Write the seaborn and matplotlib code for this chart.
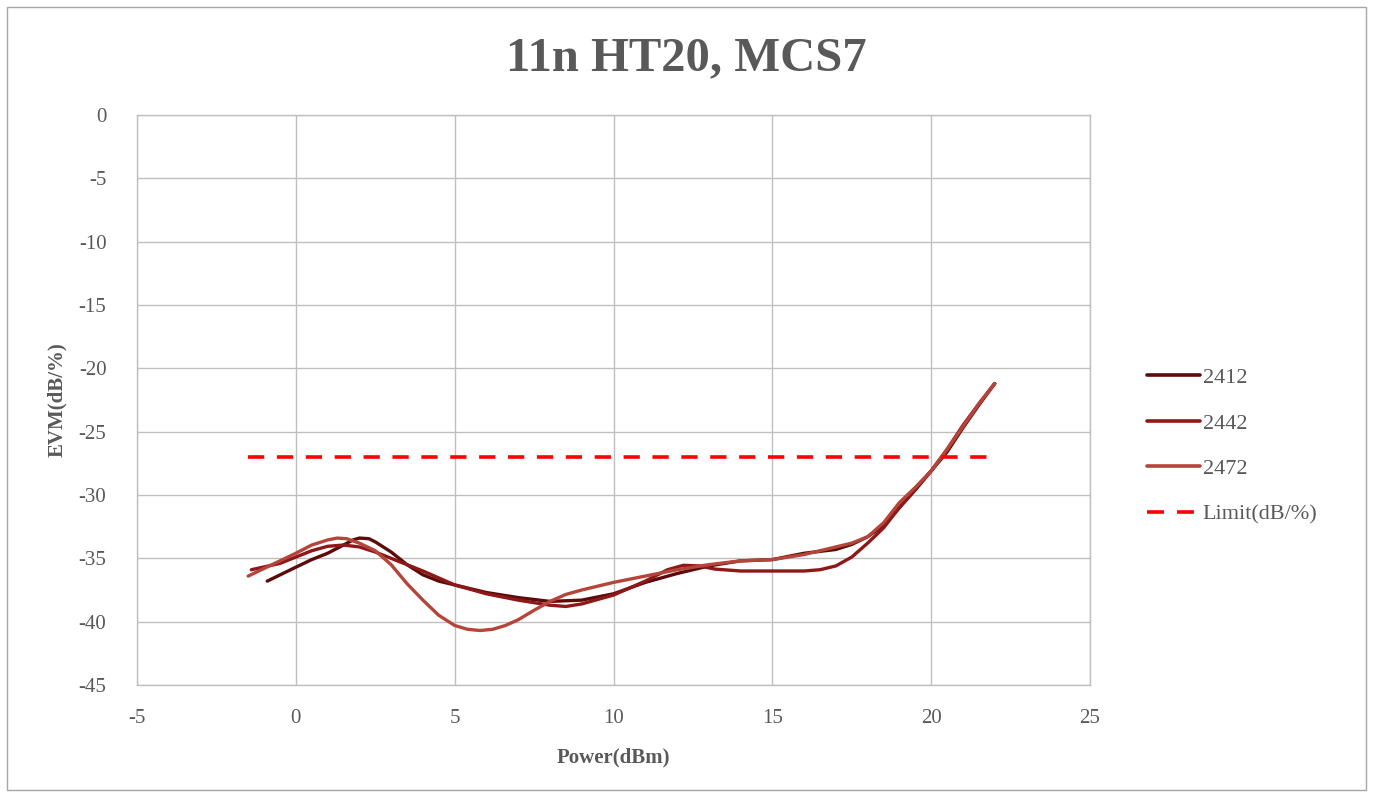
import matplotlib
matplotlib.use("Agg")
import matplotlib.pyplot as plt
from matplotlib.patches import Rectangle
from matplotlib.lines import Line2D
import seaborn as sns
import pandas as pd

# ---- data ----
x_2412 = [-0.9, 0.0, 0.5, 1.0, 1.5, 1.8, 2.0, 2.3, 2.5, 3.0, 3.5, 4.0, 4.5, 5.0, 6.0, 7.0, 8.0, 9.0,
          10.0, 11.0, 12.0, 13.0, 14.0, 15.0, 16.0, 17.0, 17.5, 18.0, 18.5, 19.0, 19.5,
          20.0, 20.5, 21.0, 21.5, 22.0]
y_2412 = [-36.8, -35.7, -35.1, -34.6, -33.95, -33.55, -33.4, -33.45, -33.7, -34.5, -35.5, -36.3, -36.8, -37.1,
          -37.7, -38.1, -38.4, -38.3, -37.8, -36.9, -36.2, -35.6, -35.2, -35.1, -34.6, -34.3,
          -33.9, -33.3, -32.4, -31.0, -29.6, -28.1, -26.6, -24.7, -22.9, -21.2]

x_2442 = [-1.4, -0.5, 0.0, 0.5, 1.0, 1.5, 2.0, 2.5, 3.0, 3.5, 4.0, 5.0, 6.0, 7.0, 8.0, 8.5,
          9.0, 10.0, 11.0, 11.7, 12.2, 12.7, 13.2, 14.0, 15.0, 16.0, 16.5, 17.0, 17.5, 18.0, 18.5,
          19.0, 19.5, 20.0, 20.5, 21.0, 21.5, 22.0]
y_2442 = [-35.9, -35.4, -34.9, -34.4, -34.05, -33.95, -34.1, -34.5, -35.0, -35.5, -36.0, -37.1,
          -37.8, -38.3, -38.7, -38.8, -38.6, -37.9, -36.8, -35.9, -35.55, -35.6, -35.85, -36.0, -36.0,
          -36.0, -35.9, -35.6, -34.9, -33.8, -32.6, -31.0, -29.5, -28.1, -26.4, -24.5, -22.8,
          -21.2]

x_2472 = [-1.5, -1.0, -0.5, 0.0, 0.5, 1.0, 1.3, 1.6, 2.0, 2.5, 3.0, 3.5, 4.0, 4.5, 5.0, 5.4, 5.8,
          6.2, 6.6, 7.0, 7.5, 8.0, 8.5, 9.0, 10.0, 11.0, 12.0, 13.0, 14.0, 15.0, 16.0, 17.0, 17.5,
          18.0, 18.5, 19.0, 19.5, 20.0, 20.5, 21.0, 21.5, 22.0]
y_2472 = [-36.4, -35.8, -35.2, -34.6, -33.95, -33.55, -33.4, -33.45, -33.8, -34.4, -35.5, -37.0, -38.3,
          -39.5, -40.3, -40.6, -40.7, -40.6, -40.3, -39.85, -39.1, -38.4, -37.85, -37.5, -36.9, -36.4,
          -35.9, -35.5, -35.2, -35.1, -34.7, -34.1, -33.8, -33.3, -32.2, -30.6, -29.4, -28.1,
          -26.4, -24.6, -22.8, -21.2]

x_limit = [-1.5, 22.0]
y_limit = [-27.0, -27.0]

series_names = ["2412", "2442", "2472"]
series_colors = ["#5C0B0B", "#8E1717", "#B5443A"]
limit_name = "Limit(dB/%)"
title = "11n HT20, MCS7"
xlabel = "Power(dBm)"
ylabel = "EVM(dB/%)"
x_ticks = [-5, 0, 5, 10, 15, 20, 25]
y_ticks = [0, -5, -10, -15, -20, -25, -30, -35, -40, -45]

# ---- build long-form table ----
frames = []
for name, xs, ys in zip(series_names, [x_2412, x_2442, x_2472], [y_2412, y_2442, y_2472]):
    frames.append(pd.DataFrame({"Power": xs, "EVM": ys, "Channel": name}))
df = pd.concat(frames, ignore_index=True)
df_limit = pd.DataFrame({"Power": x_limit, "EVM": y_limit})

sns.set_theme(style="white")
plt.rcParams["font.family"] = ["Liberation Serif", "DejaVu Serif"]
plt.rcParams["axes.unicode_minus"] = False

TXT = "#595959"
GRID = "#BFBFBF"

fig = plt.figure(figsize=(13.73, 7.97), dpi=100)
ax = fig.add_axes([137 / 1373, 1 - 685 / 797, (1090 - 137) / 1373, (685 - 115) / 797])

sns.lineplot(data=df, x="Power", y="EVM", hue="Channel", hue_order=series_names,
             palette=series_colors, sort=False, estimator=None, linewidth=2.4,
             ax=ax, legend=False, solid_capstyle="round", solid_joinstyle="round")
sns.lineplot(data=df_limit, x="Power", y="EVM", color="#FF0000", linewidth=2.6,
             ax=ax, legend=False)
ax.lines[-1].set_dashes((4.5, 3.5))

ax.set_xlim(-5, 25)
ax.set_ylim(-45, 0)
ax.set_xticks(x_ticks)
ax.set_yticks(y_ticks)
ax.grid(True, color=GRID, linewidth=1.0)
ax.set_axisbelow(True)
for s in ax.spines.values():
    s.set_color(GRID)
    s.set_linewidth(1.0)
ax.tick_params(axis="both", length=0, labelsize=15, colors=TXT)
ax.tick_params(axis="y", pad=22)
ax.tick_params(axis="x", pad=17)

ax.set_xlabel(xlabel, fontsize=15, fontweight="bold", color=TXT, labelpad=14)
ax.set_ylabel(ylabel, fontsize=15, fontweight="bold", color=TXT, labelpad=8)

fig.text(0.5, 1 - 58 / 797, title, ha="center", va="center",
         fontsize=35, fontweight="bold", color=TXT)

# legend
handles = [Line2D([0], [0], color=c, lw=2.6) for c in series_colors]
handles.append(Line2D([0], [0], color="#FF0000", lw=2.6, dashes=(4.7, 3.6)))
labels = series_names + [limit_name]
fig.legend(handles, labels, loc="center left", bbox_to_anchor=(1127 / 1373, 1 - 446 / 797),
           frameon=False, fontsize=16, labelcolor=TXT, handlelength=2.4,
           handletextpad=0.1, labelspacing=1.12)

# outer chart border
fig.patches.append(Rectangle((7 / 1373, 7 / 797), (1366 - 7) / 1373, (790 - 7) / 797,
                             transform=fig.transFigure, fill=False,
                             edgecolor="#A6A6A6", linewidth=1.0))

fig.savefig("out.png", dpi=100)
